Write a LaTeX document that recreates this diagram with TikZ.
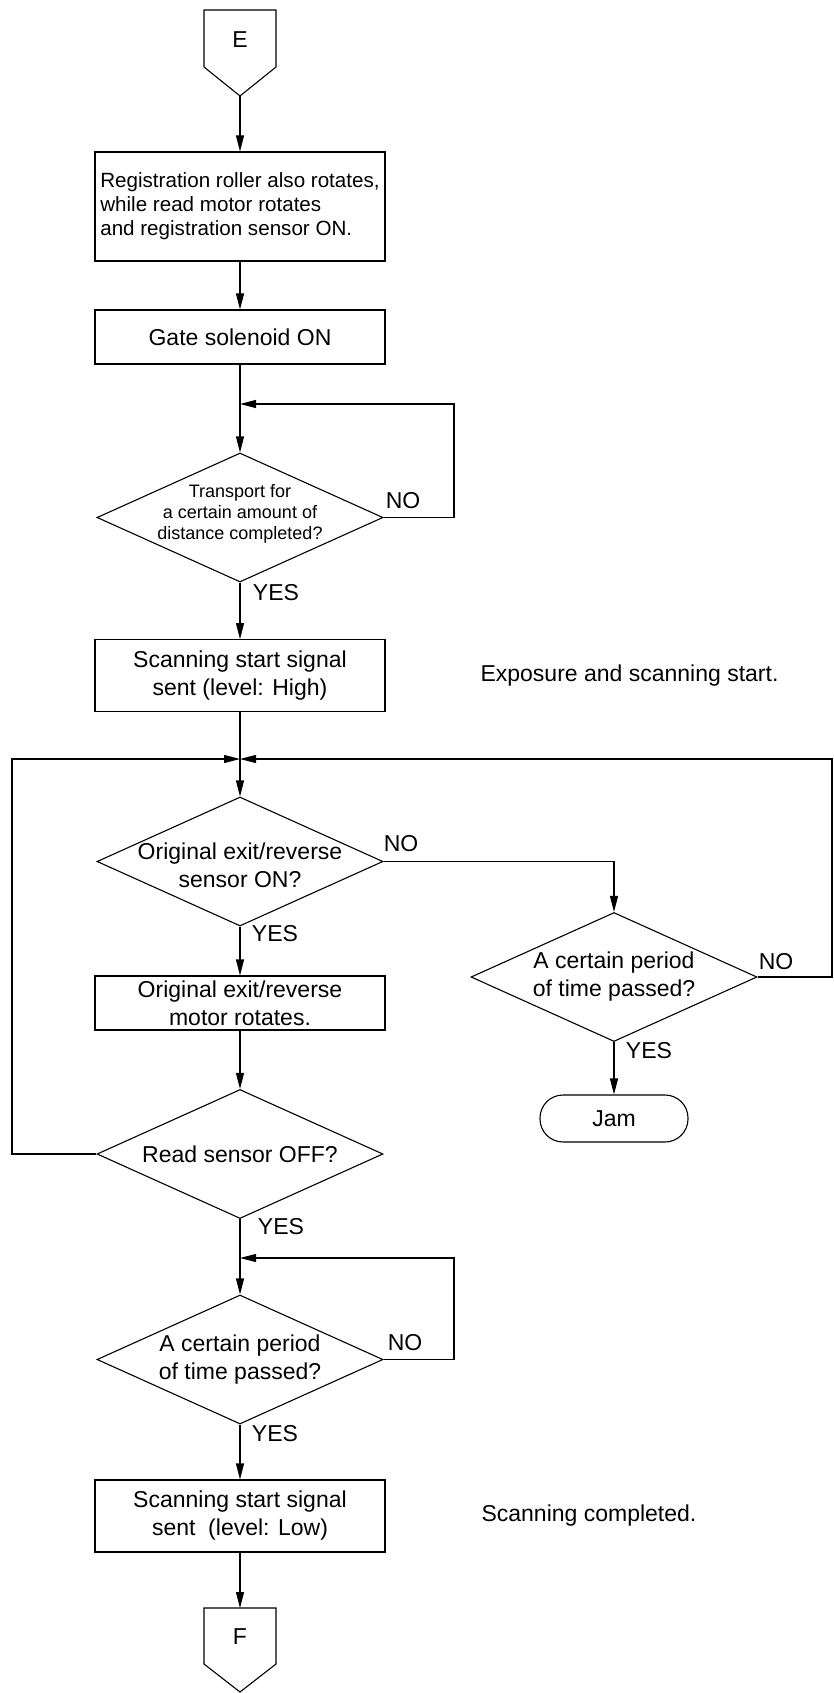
\documentclass[tikz,border=0pt]{standalone}
\usepackage{fontspec}
\setmainfont{Liberation Sans}
\usetikzlibrary{arrows.meta,shapes.geometric}
\begin{document}
\begin{tikzpicture}[x=1pt,y=-1pt,
  line width=1.1pt,
  every node/.style={font=\fontsize{23}{28}\selectfont, text=black},
  box/.style={draw, rectangle, minimum width=290pt, inner sep=0pt, align=center},
  dec/.style={draw, diamond, minimum width=286pt, minimum height=129pt, inner sep=0pt},
  arr/.style={-{Triangle[length=16pt,width=8pt]}},
  lbl/.style={inner sep=0pt},
  dtext/.style={align=center, inner sep=0pt}
]
\useasboundingbox (0,0) rectangle (833,1693);

% start connector E
\draw (204,10) -- (276,10) -- (276,67) -- (240,96) -- (204,67) -- cycle;
\node (E) at (240,40) {E};
\coordinate (Etip) at (240,96);

\node[box, minimum height=109pt, align=left,
      font=\fontsize{20.6}{24}\selectfont] (reg) at (240,206.5)
  {Registration roller also rotates,\\while read motor rotates\\and registration sensor ON.};
\node[box, minimum height=54pt] (gate) at (240,337) {Gate solenoid ON};

\node[dec, label={[dtext, font=\fontsize{18}{21}\selectfont, yshift=4pt]center:{Transport for\\a certain amount of\\distance completed?}}] (d1) at (240,517.5) {};

\node[box, minimum height=72pt] (hi) at (240,675.7) {Scanning start signal\\sent (level: High)};
\node[anchor=west, inner sep=0pt] (exp) at (480,675.6) {Exposure and scanning start.};

\node[dec, label={[dtext, yshift=-4pt]center:{Original exit/reverse\\sensor ON?}}] (d2) at (240,861.5) {};
\node[dec, label={[dtext]center:{A certain period\\of time passed?}}] (d3) at (614,977) {};
\node[draw, rounded corners=23pt, minimum width=148pt, minimum height=47pt, inner sep=0pt] (jam) at (614,1118.5) {Jam};

\node[box, minimum height=54pt] (motor) at (240,1003) {Original exit/reverse\\motor rotates.};
\node[dec, label={[dtext]center:{Read sensor OFF?}}] (d4) at (240,1154) {};
\node[dec, label={[dtext]center:{A certain period\\of time passed?}}] (d5) at (240,1359.5) {};

\node[box, minimum height=72pt] (low) at (240,1516) {Scanning start signal\\sent\ \ (level: Low)};
\node[anchor=west, inner sep=0pt] (done) at (481,1515.3) {Scanning completed.};

% end connector F
\draw (204,1608) -- (276,1608) -- (276,1664) -- (240,1692) -- (204,1664) -- cycle;
\node (F) at (240,1637) {F};
\coordinate (Ftop) at (240,1608);

% labels
\node[lbl] (n1) at (403,501) {NO};
\node[lbl] (y1) at (276,592.5) {YES};
\node[lbl] (n2) at (401,844) {NO};
\node[lbl] (y2) at (275,934) {YES};
\node[lbl] (n3) at (776,962) {NO};
\node[lbl] (y3) at (649,1051) {YES};
\node[lbl] (y4) at (281,1227) {YES};
\node[lbl] (n5) at (405,1343) {NO};
\node[lbl] (y5) at (275,1434) {YES};

% coordinates for loops
\coordinate (l1) at (240,404);
\coordinate (l1c) at (454,404);
\coordinate (jn) at (240,759);
\coordinate (jl) at (12,759);
\coordinate (jr) at (832,759);
\coordinate (l3) at (240,1258);
\coordinate (l3c) at (454,1258);

% connectors
\draw[arr] (Etip) -- (reg.north);
\draw[arr] (reg.south) -- (gate.north);
\draw[arr] (gate.south) -- (d1.north);
\draw[arr] (d1.east) -- (d1.east -| l1c) -- (l1c) -- (l1);
\draw[arr] (d1.south) -- (hi.north);
\draw[arr] (hi.south) -- (d2.north);
\draw[arr] (d4.west) -- (d4.west -| jl) -- (jl) -- (jn);
\draw[arr] (d3.east) -- (d3.east -| jr) -- (jr) -- (jn);
\draw[arr] (d2.east) -- (d2.east -| d3.north) -- (d3.north);
\draw[arr] (d3.south) -- (jam.north);
\draw[arr] (d2.south) -- (motor.north);
\draw[arr] (motor.south) -- (d4.north);
\draw[arr] (d4.south) -- (d5.north);
\draw[arr] (d5.east) -- (d5.east -| l3c) -- (l3c) -- (l3);
\draw[arr] (d5.south) -- (low.north);
\draw[arr] (low.south) -- (Ftop);
\end{tikzpicture}
\end{document}
